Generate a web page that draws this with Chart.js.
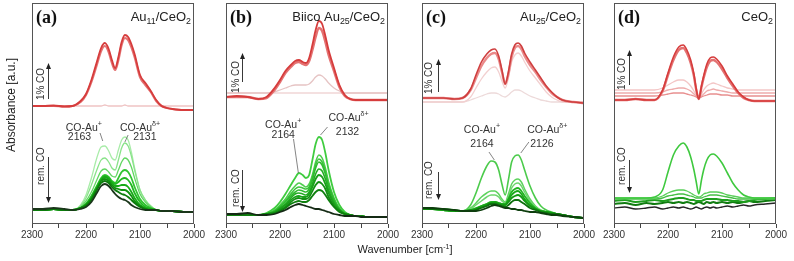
<!DOCTYPE html>
<html>
<head>
<meta charset="utf-8">
<script src="https://cdn.jsdelivr.net/npm/chart.js@4.4.1/dist/chart.umd.min.js"></script>
<style>
  body { margin: 0; background: #fff; }
  #wrap { position: relative; width: 794px; height: 261px; overflow: hidden; font-family: 'Liberation Sans', Arial, sans-serif; color: #222; }
  #wrap canvas { position: absolute; top: 0; }
  .ytitle { position: absolute; left: -49px; top: 98px; width: 120px; text-align: center; font-size: 12px; line-height: 14px; transform: rotate(-90deg); }
  .xtitle { position: absolute; left: 305px; top: 242px; width: 200px; text-align: center; font-size: 11px; line-height: 14px; }
  .xtitle sup { font-size: 7px; vertical-align: 4px; line-height: 0; }
</style>
</head>
<body>
<div id="wrap">
  <canvas id="pa" width="198" height="261" style="left:14px"></canvas>
  <canvas id="pb" width="198" height="261" style="left:208px"></canvas>
  <canvas id="pc" width="198" height="261" style="left:404px"></canvas>
  <canvas id="pd" width="198" height="261" style="left:596px"></canvas>
  <div class="ytitle">Absorbance [a.u.]</div>
  <div class="xtitle">Wavenumber [cm<sup>-1</sup>]</div>
</div>
<script>
// wavenumber grids (cm-1)
var wnABC = [2300,2280,2260,2240,2225,2210,2200,2190,2180,2172,2165,2158,2152,2146,2140,2134,2128,2122,2116,2110,2100,2090,2080,2070,2060,2050,2040,2020,2000];
var wnD = [2300,2280,2260,2240,2225,2210,2200,2190,2180,2172,2165,2158,2152,2148,2143,2138,2134,2128,2122,2116,2110,2100,2090,2080,2070,2060,2050,2040,2020,2000];
var xTickLabels = [2300, 2200, 2100, 2000];

// (a) Au11/CeO2
var aRed0 = [1.18,1.18,1.18,1.18,1.18,1.18,1.18,1.18,1.18,1.18,1.19,1.18,1.18,1.18,1.18,1.18,1.19,1.18,1.18,1.18,1.18,1.18,1.18,1.18,1.18,1.18,1.18,1.18,1.18];
var aRed2 = [1.18,1.18,1.18,1.175,1.18,1.22,1.29,1.42,1.59,1.73,1.78,1.72,1.61,1.54,1.64,1.79,1.86,1.84,1.77,1.67,1.47,1.39,1.32,1.23,1.18,1.16,1.15,1.14,1.14];
var aRed1 = [1.18,1.18,1.185,1.175,1.18,1.23,1.30,1.44,1.62,1.76,1.81,1.75,1.64,1.56,1.67,1.82,1.89,1.87,1.80,1.70,1.49,1.41,1.33,1.24,1.18,1.16,1.15,1.14,1.14];
var aG1 = [0.14,0.14,0.15,0.14,0.14,0.19,0.29,0.46,0.66,0.77,0.78,0.73,0.66,0.64,0.74,0.84,0.87,0.84,0.72,0.56,0.34,0.24,0.18,0.14,0.13,0.13,0.13,0.12,0.12];
var aG2 = [0.14,0.14,0.15,0.14,0.14,0.18,0.26,0.39,0.54,0.64,0.66,0.62,0.56,0.54,0.64,0.76,0.81,0.78,0.68,0.54,0.34,0.24,0.18,0.14,0.13,0.13,0.13,0.12,0.12];
var aG3 = [0.14,0.14,0.15,0.14,0.14,0.17,0.23,0.32,0.44,0.53,0.55,0.52,0.48,0.47,0.54,0.62,0.66,0.64,0.57,0.46,0.30,0.22,0.17,0.14,0.13,0.13,0.13,0.12,0.12];
var aG4 = [0.14,0.14,0.15,0.14,0.14,0.16,0.20,0.28,0.38,0.46,0.49,0.47,0.43,0.41,0.46,0.52,0.54,0.52,0.46,0.37,0.25,0.19,0.16,0.14,0.13,0.13,0.13,0.12,0.12];
var aG45 = [0.14,0.14,0.15,0.14,0.14,0.16,0.20,0.27,0.37,0.45,0.48,0.46,0.42,0.40,0.42,0.45,0.46,0.44,0.39,0.31,0.22,0.17,0.15,0.14,0.13,0.13,0.13,0.12,0.12];
var aG5 = [0.14,0.14,0.15,0.14,0.14,0.16,0.19,0.26,0.36,0.44,0.47,0.45,0.41,0.38,0.38,0.39,0.39,0.37,0.32,0.26,0.19,0.16,0.15,0.14,0.13,0.13,0.13,0.12,0.12];
var aG56 = [0.14,0.14,0.15,0.14,0.14,0.16,0.19,0.25,0.35,0.43,0.45,0.43,0.39,0.36,0.35,0.34,0.34,0.32,0.28,0.23,0.18,0.15,0.14,0.14,0.13,0.13,0.13,0.12,0.12];
var aG6 = [0.14,0.14,0.15,0.14,0.14,0.16,0.18,0.24,0.34,0.41,0.43,0.41,0.37,0.34,0.32,0.30,0.29,0.27,0.24,0.21,0.17,0.15,0.14,0.14,0.13,0.13,0.13,0.12,0.12];
var aG7 = [0.15,0.15,0.16,0.15,0.14,0.15,0.17,0.22,0.31,0.38,0.40,0.38,0.34,0.30,0.27,0.25,0.24,0.22,0.19,0.17,0.15,0.14,0.14,0.14,0.13,0.13,0.13,0.12,0.12];

// (b) Biico Au25/CeO2
var bRed0 = [1.31,1.31,1.31,1.31,1.31,1.31,1.31,1.31,1.31,1.31,1.31,1.31,1.31,1.31,1.31,1.31,1.31,1.31,1.31,1.31,1.31,1.31,1.31,1.31,1.31,1.31,1.31,1.31,1.31];
var bRedF = [1.31,1.31,1.31,1.31,1.31,1.32,1.34,1.36,1.38,1.39,1.39,1.39,1.39,1.40,1.43,1.47,1.49,1.48,1.45,1.41,1.36,1.33,1.31,1.31,1.31,1.31,1.31,1.31,1.31];
var bRed2 = [1.27,1.27,1.27,1.25,1.26,1.34,1.42,1.51,1.57,1.61,1.62,1.60,1.59,1.63,1.74,1.87,1.96,1.93,1.82,1.69,1.53,1.37,1.28,1.25,1.24,1.24,1.24,1.24,1.24];
var bRed1 = [1.27,1.28,1.27,1.25,1.27,1.36,1.44,1.53,1.59,1.63,1.64,1.62,1.61,1.66,1.79,1.94,2.03,2.00,1.88,1.74,1.56,1.39,1.29,1.25,1.24,1.24,1.24,1.24,1.24];
var bG1 = [0.09,0.09,0.09,0.09,0.11,0.16,0.22,0.30,0.39,0.46,0.51,0.49,0.46,0.49,0.64,0.80,0.87,0.84,0.71,0.54,0.32,0.19,0.12,0.09,0.08,0.08,0.07,0.07,0.07];
var bG2 = [0.09,0.09,0.09,0.09,0.10,0.14,0.19,0.25,0.33,0.38,0.41,0.39,0.37,0.40,0.49,0.62,0.69,0.66,0.56,0.42,0.26,0.16,0.11,0.09,0.08,0.08,0.07,0.07,0.07];
var bG23 = [0.09,0.09,0.09,0.09,0.10,0.13,0.18,0.23,0.30,0.35,0.37,0.36,0.35,0.37,0.47,0.59,0.65,0.62,0.53,0.40,0.25,0.15,0.11,0.09,0.08,0.08,0.07,0.07,0.07];
var bG3 = [0.09,0.09,0.09,0.09,0.10,0.13,0.17,0.22,0.28,0.32,0.34,0.33,0.32,0.35,0.44,0.56,0.62,0.59,0.50,0.38,0.24,0.15,0.11,0.09,0.08,0.08,0.07,0.07,0.07];
var bG34 = [0.09,0.09,0.09,0.09,0.10,0.12,0.16,0.20,0.26,0.30,0.31,0.30,0.29,0.32,0.40,0.50,0.55,0.53,0.45,0.34,0.22,0.14,0.10,0.09,0.08,0.08,0.07,0.07,0.07];
var bG4 = [0.09,0.09,0.09,0.09,0.10,0.12,0.15,0.19,0.24,0.27,0.28,0.27,0.27,0.30,0.37,0.45,0.49,0.47,0.40,0.31,0.20,0.14,0.10,0.09,0.08,0.08,0.07,0.07,0.07];
var bG45 = [0.09,0.09,0.09,0.09,0.10,0.11,0.14,0.17,0.22,0.25,0.26,0.25,0.25,0.27,0.33,0.39,0.42,0.40,0.35,0.27,0.18,0.13,0.10,0.09,0.08,0.08,0.07,0.07,0.07];
var bG5 = [0.09,0.09,0.09,0.09,0.10,0.11,0.13,0.16,0.20,0.22,0.23,0.22,0.22,0.24,0.28,0.32,0.34,0.33,0.29,0.24,0.17,0.12,0.10,0.09,0.08,0.08,0.07,0.07,0.07];
var bG6 = [0.10,0.10,0.11,0.09,0.09,0.10,0.12,0.14,0.17,0.19,0.20,0.19,0.18,0.17,0.16,0.15,0.15,0.14,0.13,0.12,0.10,0.09,0.08,0.08,0.08,0.07,0.07,0.07,0.07];

// (c) Au25/CeO2
var cRedF2 = [1.22,1.22,1.22,1.22,1.22,1.24,1.26,1.28,1.30,1.31,1.31,1.30,1.28,1.27,1.29,1.32,1.34,1.34,1.33,1.31,1.28,1.26,1.24,1.23,1.22,1.22,1.22,1.22,1.22];
var cRedF1 = [1.22,1.22,1.22,1.22,1.22,1.27,1.36,1.45,1.52,1.56,1.57,1.52,1.43,1.36,1.46,1.62,1.69,1.71,1.68,1.62,1.53,1.46,1.39,1.32,1.27,1.24,1.22,1.22,1.22];
var cRed2 = [1.26,1.26,1.26,1.25,1.26,1.34,1.46,1.58,1.66,1.70,1.71,1.65,1.52,1.40,1.50,1.67,1.76,1.78,1.75,1.68,1.59,1.52,1.44,1.37,1.31,1.27,1.24,1.22,1.21];
var cRed1 = [1.26,1.26,1.26,1.25,1.26,1.35,1.49,1.62,1.70,1.74,1.75,1.68,1.54,1.40,1.52,1.70,1.79,1.81,1.78,1.71,1.62,1.54,1.46,1.38,1.32,1.27,1.24,1.22,1.21];
var cG1 = [0.15,0.15,0.14,0.13,0.13,0.19,0.31,0.46,0.58,0.63,0.62,0.54,0.40,0.29,0.44,0.62,0.68,0.69,0.64,0.54,0.38,0.26,0.18,0.14,0.12,0.10,0.09,0.07,0.06];
var cG2 = [0.15,0.15,0.14,0.13,0.13,0.16,0.21,0.27,0.31,0.33,0.33,0.30,0.25,0.22,0.30,0.40,0.44,0.45,0.42,0.35,0.25,0.18,0.14,0.12,0.11,0.10,0.09,0.07,0.06];
var cG3 = [0.15,0.15,0.14,0.13,0.13,0.15,0.19,0.23,0.27,0.29,0.29,0.27,0.23,0.21,0.27,0.36,0.40,0.41,0.38,0.32,0.23,0.17,0.13,0.12,0.11,0.10,0.09,0.07,0.06];
var cG4 = [0.15,0.15,0.14,0.13,0.13,0.14,0.16,0.18,0.20,0.22,0.22,0.21,0.20,0.20,0.25,0.32,0.35,0.36,0.33,0.28,0.21,0.16,0.13,0.12,0.11,0.10,0.09,0.07,0.06];
var cG45 = [0.15,0.15,0.14,0.13,0.13,0.14,0.15,0.18,0.20,0.21,0.22,0.21,0.20,0.19,0.24,0.29,0.32,0.33,0.30,0.25,0.19,0.15,0.13,0.12,0.11,0.10,0.09,0.07,0.06];
var cG5 = [0.15,0.15,0.14,0.13,0.13,0.14,0.15,0.17,0.19,0.21,0.21,0.20,0.19,0.19,0.22,0.26,0.28,0.29,0.27,0.23,0.18,0.15,0.13,0.12,0.11,0.10,0.09,0.07,0.06];
var cG56 = [0.16,0.15,0.15,0.14,0.13,0.13,0.14,0.16,0.18,0.20,0.20,0.19,0.18,0.17,0.19,0.22,0.24,0.24,0.22,0.20,0.16,0.14,0.12,0.11,0.10,0.10,0.09,0.07,0.06];
var cG6 = [0.16,0.16,0.15,0.14,0.13,0.13,0.13,0.14,0.16,0.18,0.19,0.18,0.17,0.16,0.16,0.15,0.15,0.14,0.14,0.13,0.12,0.12,0.11,0.10,0.09,0.09,0.08,0.07,0.06];

// (d) CeO2
var dRedF1 = [1.34,1.34,1.34,1.34,1.34,1.36,1.39,1.42,1.44,1.44,1.42,1.38,1.33,1.29,1.26,1.30,1.34,1.38,1.40,1.41,1.40,1.38,1.36,1.35,1.34,1.34,1.34,1.34,1.34,1.34];
var dRedF2 = [1.31,1.31,1.31,1.31,1.31,1.32,1.34,1.35,1.36,1.36,1.35,1.33,1.30,1.28,1.26,1.28,1.30,1.33,1.34,1.35,1.34,1.33,1.32,1.31,1.31,1.31,1.31,1.31,1.31,1.31];
var dRedF3 = [1.28,1.28,1.28,1.28,1.28,1.29,1.30,1.31,1.31,1.31,1.30,1.29,1.28,1.27,1.26,1.27,1.28,1.29,1.30,1.30,1.30,1.29,1.29,1.28,1.28,1.28,1.28,1.28,1.28,1.28];
var dRed2 = [1.24,1.24,1.25,1.24,1.24,1.33,1.49,1.64,1.74,1.76,1.71,1.61,1.48,1.35,1.25,1.37,1.46,1.57,1.63,1.64,1.62,1.55,1.46,1.38,1.31,1.26,1.24,1.23,1.23,1.23];
var dRed1 = [1.24,1.24,1.25,1.24,1.24,1.34,1.51,1.67,1.77,1.79,1.74,1.64,1.50,1.36,1.25,1.38,1.48,1.60,1.66,1.67,1.65,1.58,1.48,1.40,1.32,1.27,1.24,1.23,1.23,1.23];
var dBlack = [0.16,0.17,0.15,0.16,0.17,0.15,0.16,0.17,0.16,0.17,0.16,0.15,0.16,0.17,0.16,0.15,0.16,0.17,0.16,0.17,0.16,0.17,0.18,0.17,0.18,0.19,0.18,0.19,0.20,0.21];
var dG5 = [0.20,0.21,0.19,0.21,0.20,0.21,0.22,0.21,0.22,0.21,0.22,0.21,0.20,0.21,0.22,0.21,0.20,0.22,0.21,0.22,0.21,0.22,0.21,0.22,0.21,0.22,0.23,0.22,0.23,0.24];
var dG4 = [0.23,0.24,0.22,0.23,0.24,0.23,0.24,0.25,0.26,0.26,0.25,0.24,0.24,0.23,0.23,0.23,0.24,0.25,0.25,0.25,0.25,0.24,0.24,0.23,0.23,0.22,0.23,0.24,0.25,0.26];
var dG3 = [0.25,0.25,0.25,0.25,0.25,0.26,0.28,0.29,0.30,0.30,0.29,0.28,0.27,0.26,0.26,0.26,0.27,0.28,0.29,0.29,0.29,0.28,0.27,0.26,0.25,0.25,0.25,0.25,0.25,0.25];
var dG2 = [0.26,0.26,0.26,0.26,0.26,0.28,0.31,0.33,0.34,0.34,0.33,0.31,0.29,0.28,0.27,0.28,0.30,0.31,0.32,0.32,0.32,0.31,0.29,0.28,0.27,0.26,0.26,0.26,0.26,0.26];
var dG1 = [0.26,0.26,0.26,0.26,0.27,0.34,0.52,0.69,0.78,0.81,0.77,0.67,0.54,0.43,0.30,0.44,0.54,0.64,0.69,0.70,0.68,0.61,0.51,0.41,0.34,0.29,0.27,0.26,0.26,0.26];

var SANS = "'Liberation Sans', Arial, sans-serif";

function drawRich(ctx, parts, x, y, size, align) {
  var total = 0;
  parts.forEach(function (p) {
    ctx.font = ((p.sub || p.sup) ? size * 0.68 : size) + 'px ' + SANS;
    p.w = ctx.measureText(p.t).width;
    total += p.w;
  });
  var cx = align === 'right' ? x - total : (align === 'center' ? x - total / 2 : x);
  ctx.textAlign = 'left';
  ctx.textBaseline = 'middle';
  parts.forEach(function (p) {
    ctx.font = ((p.sub || p.sup) ? size * 0.68 : size) + 'px ' + SANS;
    var dy = p.sub ? size * 0.32 : (p.sup ? -size * 0.36 : 0);
    ctx.fillText(p.t, cx, y + dy);
    cx += p.w;
  });
}

function makePanel(id, wn, series, ann) {
  var datasets = series.map(function (s) {
    return {
      data: wn.map(function (w, i) { return { x: w, y: s.data[i] }; }),
      borderColor: s.color,
      borderWidth: s.width || 1.3,
      pointRadius: 0,
      fill: false,
      cubicInterpolationMode: 'monotone'
    };
  }).reverse();

  var annot = {
    id: 'annot',
    afterDraw: function (chart) {
      var ctx = chart.ctx, a = chart.chartArea;
      var xs = chart.scales.x, ys = chart.scales.y;
      var X = function (w) { return xs.getPixelForValue(w); };
      var Y = function (v) { return ys.getPixelForValue(v); };
      ctx.save();
      ctx.strokeStyle = '#555';
      ctx.lineWidth = 1;
      ctx.strokeRect(a.left + 0.5, a.top + 0.5, a.right - a.left - 1, a.bottom - a.top - 1);

      ctx.fillStyle = '#111';
      ctx.font = "bold 18px 'Liberation Serif', 'Times New Roman', serif";
      ctx.textAlign = 'left';
      ctx.textBaseline = 'middle';
      ctx.fillText(ann.letter, a.left + 4, a.top + 15);
      ctx.fillStyle = '#222';
      drawRich(ctx, ann.title, a.right - 3, a.top + 14, 13, 'right');

      ctx.fillStyle = '#333';
      ann.labels.forEach(function (l) { drawRich(ctx, l.parts, X(l.w), Y(l.v), 10.5, 'center'); });
      ctx.strokeStyle = '#666';
      ctx.lineWidth = 0.8;
      ann.leaders.forEach(function (ln) {
        ctx.beginPath();
        ctx.moveTo(X(ln[0]), Y(ln[1]));
        ctx.lineTo(X(ln[2]), Y(ln[3]));
        ctx.stroke();
      });

      ann.arrows.forEach(function (ar) {
        var x = Math.round(X(ar.w)) + 0.5, y1 = Y(ar.from), y2 = Y(ar.to);
        var dir = y2 < y1 ? -1 : 1;
        ctx.strokeStyle = '#222';
        ctx.fillStyle = '#222';
        ctx.lineWidth = 0.9;
        ctx.beginPath();
        ctx.moveTo(x, y1);
        ctx.lineTo(x, y2 - dir * 4);
        ctx.stroke();
        ctx.beginPath();
        ctx.moveTo(x, y2);
        ctx.lineTo(x - 2.5, y2 - dir * 6);
        ctx.lineTo(x + 2.5, y2 - dir * 6);
        ctx.closePath();
        ctx.fill();
        ctx.save();
        ctx.translate(X(ar.tw), Y(ar.tv));
        ctx.rotate(-Math.PI / 2);
        ctx.font = '10px ' + SANS;
        ctx.textAlign = 'center';
        ctx.textBaseline = 'middle';
        ctx.fillStyle = '#333';
        ctx.fillText(ar.text, 0, 0);
        ctx.restore();
      });
      ctx.restore();
    }
  };

  return new Chart(document.getElementById(id), {
    type: 'line',
    data: { datasets: datasets },
    options: {
      responsive: false,
      animation: false,
      devicePixelRatio: 1,
      layout: { padding: { left: 18, right: 18, top: 3, bottom: 0 } },
      plugins: { legend: { display: false }, tooltip: { enabled: false } },
      scales: {
        x: {
          type: 'linear',
          min: 2000,
          max: 2300,
          reverse: true,
          afterFit: function (s) { s.height = 37; },
          border: { display: false },
          grid: { drawOnChartArea: false, color: '#444', tickLength: 4 },
          ticks: {
            stepSize: 50,
            autoSkip: false,
            maxRotation: 0,
            padding: 1,
            color: '#333',
            font: { family: SANS, size: 10 },
            callback: function (v) { return xTickLabels.indexOf(v) >= 0 ? String(v) : ''; }
          }
        },
        y: { type: 'linear', min: 0, max: 2.21, display: false }
      }
    },
    plugins: [annot]
  });
}

var pink = '#efc4c4', redMid = '#e47272', red = '#d63c3c';

makePanel('pa', wnABC, [
  { data: aRed0, color: pink },
  { data: aRed2, color: redMid, width: 2.2 },
  { data: aRed1, color: red, width: 1.8 },
  { data: aG1, color: '#a8eca8' },
  { data: aG2, color: '#8ae38a' },
  { data: aG3, color: '#62d662' },
  { data: aG4, color: '#30c430', width: 1.8 },
  { data: aG45, color: '#22b822', width: 1.8 },
  { data: aG5, color: '#18aa18', width: 1.8 },
  { data: aG56, color: '#0f920f', width: 1.8 },
  { data: aG6, color: '#0c7c0c', width: 1.8 },
  { data: aG7, color: '#1a361a', width: 1.8 }
], {
  letter: '(a)',
  title: [{ t: 'Au' }, { t: '11', sub: true }, { t: '/CeO' }, { t: '2', sub: true }],
  labels: [
    { parts: [{ t: 'CO-Au' }, { t: '+', sup: true }], w: 2204, v: 0.96 },
    { parts: [{ t: '2163' }], w: 2212, v: 0.87 },
    { parts: [{ t: 'CO-Au' }, { t: 'δ+', sup: true }], w: 2100, v: 0.96 },
    { parts: [{ t: '2131' }], w: 2091, v: 0.87 }
  ],
  leaders: [[2174, 0.91, 2169, 0.83], [2122, 0.89, 2128, 0.82]],
  arrows: [
    { w: 2270, from: 1.25, to: 1.61, text: '1% CO', tw: 2282, tv: 1.40 },
    { w: 2270, from: 0.67, to: 0.21, text: 'rem. CO', tw: 2282, tv: 0.58 }
  ]
});

makePanel('pb', wnABC, [
  { data: bRed0, color: '#f1d6d6' },
  { data: bRedF, color: '#e6c4c4' },
  { data: bRed2, color: redMid, width: 2.4 },
  { data: bRed1, color: red, width: 1.8 },
  { data: bG1, color: '#3fcc3f', width: 1.8 },
  { data: bG2, color: '#4fcf4f', width: 1.6 },
  { data: bG23, color: '#3cc43c', width: 1.6 },
  { data: bG3, color: '#2fba2f', width: 1.6 },
  { data: bG34, color: '#24ad24', width: 1.6 },
  { data: bG4, color: '#1aa01a', width: 1.8 },
  { data: bG45, color: '#149014', width: 1.8 },
  { data: bG5, color: '#0f800f', width: 1.8 },
  { data: bG6, color: '#142a14', width: 1.8 }
], {
  letter: '(b)',
  title: [{ t: 'Biico Au' }, { t: '25', sub: true }, { t: '/CeO' }, { t: '2', sub: true }],
  labels: [
    { parts: [{ t: 'CO-Au' }, { t: '+', sup: true }], w: 2194, v: 0.99 },
    { parts: [{ t: '2164' }], w: 2194, v: 0.89 },
    { parts: [{ t: 'CO-Au' }, { t: 'δ+', sup: true }], w: 2073, v: 1.06 },
    { parts: [{ t: '2132' }], w: 2075, v: 0.92 }
  ],
  leaders: [[2175, 0.85, 2166, 0.51], [2112, 0.97, 2125, 0.89]],
  arrows: [
    { w: 2270, from: 1.42, to: 1.71, text: '1% CO', tw: 2281, tv: 1.47 },
    { w: 2270, from: 0.54, to: 0.12, text: 'rem. CO', tw: 2281, tv: 0.36 }
  ]
});

makePanel('pc', wnABC, [
  { data: cRedF2, color: '#eddada' },
  { data: cRedF1, color: '#f2d0d0' },
  { data: cRed2, color: '#ea8a8a', width: 2.4 },
  { data: cRed1, color: '#cf3f3f', width: 1.6 },
  { data: cG1, color: '#4ccb4c', width: 1.6 },
  { data: cG2, color: '#5ed35e', width: 1.5 },
  { data: cG3, color: '#6fd66f', width: 1.5 },
  { data: cG4, color: '#22b522', width: 1.8 },
  { data: cG45, color: '#1aa81a', width: 1.8 },
  { data: cG5, color: '#129a12', width: 1.8 },
  { data: cG56, color: '#0d700d', width: 1.8 },
  { data: cG6, color: '#0e3e0e', width: 1.8 }
], {
  letter: '(c)',
  title: [{ t: 'Au' }, { t: '25', sub: true }, { t: '/CeO' }, { t: '2', sub: true }],
  labels: [
    { parts: [{ t: 'CO-Au' }, { t: '+', sup: true }], w: 2189, v: 0.94 },
    { parts: [{ t: '2164' }], w: 2189, v: 0.80 },
    { parts: [{ t: 'CO-Au' }, { t: 'δ+', sup: true }], w: 2068, v: 0.94 },
    { parts: [{ t: '2126' }], w: 2078, v: 0.80 }
  ],
  leaders: [[2176, 0.72, 2166, 0.64], [2102, 0.82, 2117, 0.71]],
  arrows: [
    { w: 2270, from: 1.32, to: 1.65, text: '1% CO', tw: 2287, tv: 1.46 },
    { w: 2270, from: 0.52, to: 0.24, text: 'rem. CO', tw: 2287, tv: 0.44 }
  ]
});

makePanel('pd', wnD, [
  { data: dRedF1, color: '#f3c6c6' },
  { data: dRedF2, color: '#eeacac' },
  { data: dRedF3, color: '#e89090' },
  { data: dRed2, color: redMid, width: 2.4 },
  { data: dRed1, color: red, width: 1.6 },
  { data: dBlack, color: '#262626', width: 1.4 },
  { data: dG5, color: '#117c11', width: 2 },
  { data: dG4, color: '#1e9e1e', width: 2 },
  { data: dG3, color: '#45c045' },
  { data: dG2, color: '#5acf5a' },
  { data: dG1, color: '#3fc93f', width: 1.6 }
], {
  letter: '(d)',
  title: [{ t: 'CeO' }, { t: '2', sub: true }],
  labels: [],
  leaders: [],
  arrows: [
    { w: 2272, from: 1.39, to: 1.74, text: '1% CO', tw: 2284, tv: 1.50 },
    { w: 2272, from: 0.64, to: 0.31, text: 'rem. CO', tw: 2284, tv: 0.58 }
  ]
});
</script>
</body>
</html>
